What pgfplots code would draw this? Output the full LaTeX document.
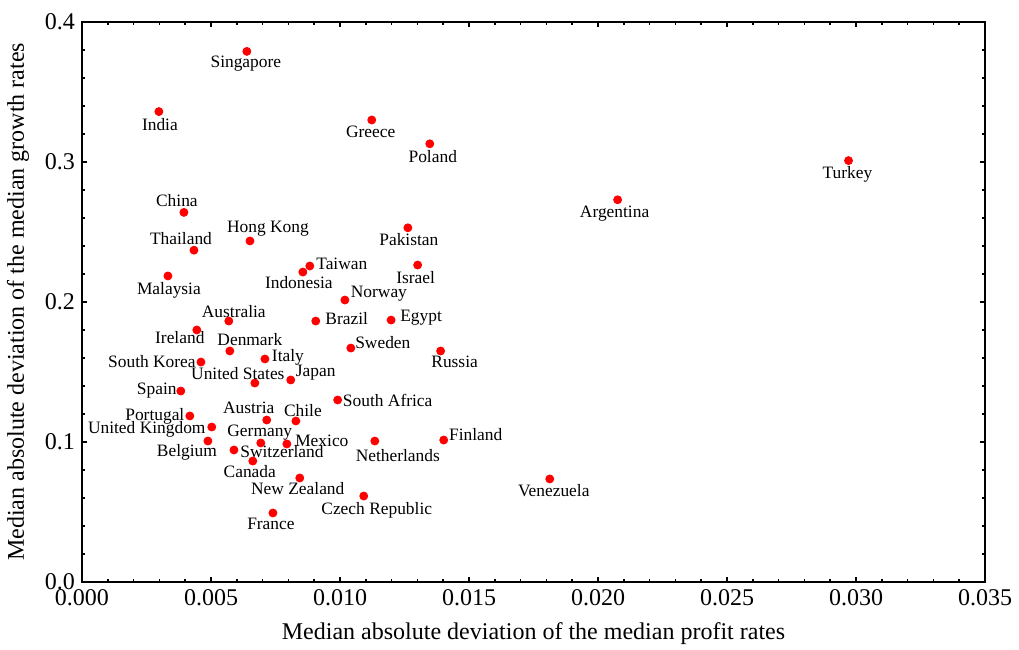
\documentclass[border=0pt]{standalone}
\usepackage{pgfplots}
\pgfplotsset{compat=1.18}
\usepackage{pgfplotstable}
\usepackage{fontspec}
\setmainfont{Liberation Serif}
\pgfplotstableread[col sep=comma]{
x,y,dx,dy,name
0.00639,0.379,-0.5,-6,Singapore
0.00298,0.336,0.5,-6.5,India
0.01123,0.330,-0.5,-6,Greece
0.01348,0.313,1.5,-6.5,Poland
0.02971,0.301,-0.5,-7,Turkey
0.02076,0.273,-1.5,-7,Argentina
0.00395,0.264,-3.5,6,China
0.00651,0.2436,9,6,Hong Kong
0.00434,0.237,-6.5,6,Thailand
0.01263,0.253,0.5,-6,Pakistan
0.00883,0.2257,16,1,Taiwan
0.00856,0.2214,-2,-5.5,Indonesia
0.01301,0.2264,-1,-6.5,Israel
0.00333,0.2186,0.5,-7,Malaysia
0.01019,0.2014,17,3,Norway
0.00569,0.1864,2.5,4.5,Australia
0.00906,0.1864,15.5,1,Brazil
0.01198,0.1871,15,1,Egypt
0.00445,0.1800,-8.5,-4,Ireland
0.01042,0.1671,16,3,Sweden
0.01390,0.1650,7,-5.5,Russia
0.00573,0.1650,10,5.5,Denmark
0.00709,0.1593,11.5,1,Italy
0.00461,0.1571,-24.5,0.5,South Korea
0.00809,0.1443,12.5,3.5,Japan
0.00670,0.1421,-8.5,5,United States
0.00383,0.1364,-12,0,Spain
0.00991,0.1300,25,0,South Africa
0.00418,0.1186,-17.5,0,Portugal
0.00716,0.1157,-9,6,Austria
0.00829,0.1150,3.5,5,Chile
0.00503,0.1107,-32.5,-1,United Kingdom
0.00488,0.1007,-10.5,-5.5,Belgium
0.00693,0.0993,-0.5,5,Germany
0.00794,0.0986,17.5,1.5,Mexico
0.01135,0.1007,11.5,-7.5,Netherlands
0.01402,0.1014,16,2.5,Finland
0.00589,0.0943,24,-1,Switzerland
0.00662,0.0864,-1.5,-5.5,Canada
0.00844,0.0743,-1,-5.5,New Zealand
0.01813,0.0736,2,-6,Venezuela
0.01092,0.0614,6.5,-7,Czech Republic
0.00740,0.0493,-1,-5.5,France
}\datatable
\begin{document}
\begin{tikzpicture}
\begin{axis}[
  name=ax,
  scale only axis,
  width=451.5pt, height=280pt,
  xmin=0, xmax=0.035, ymin=0, ymax=0.4,
  axis line style={line width=1.4pt},
  tick style={line width=0.8pt, black},
  major tick length=2.5pt, minor tick length=1.5pt,
  tick align=inside,
  xtick={0,0.005,...,0.035},
  ytick={0,0.1,...,0.4},
  minor x tick num=4,
  minor y tick num=4,
  scaled ticks=false,
  /pgf/number format/assume math mode=true,
  xticklabel style={/pgf/number format/.cd, fixed, fixed zerofill, precision=3},
  yticklabel style={/pgf/number format/.cd, fixed, fixed zerofill, precision=1},
  tick label style={font=\fontsize{12}{14}\selectfont},
  label style={font=\fontsize{12}{14}\selectfont},
  xlabel={Median absolute deviation of the median profit rates},
  ylabel={Median absolute deviation of the median growth rates},
  xlabel style={at={(axis description cs:0.5,-0.093)}, anchor=center},
  ylabel style={at={(axis description cs:-0.0708,0.5)}, anchor=center},
  clip=false,
]
\addplot[only marks, mark=*, mark size=2pt, color=red,
  point meta=explicit symbolic,
  visualization depends on={\thisrow{dx} \as \labdx},
  visualization depends on={\thisrow{dy} \as \labdy},
  nodes near coords,
  nodes near coords style={anchor=center, text=black, inner sep=0pt,
    font=\fontsize{8.7}{10}\selectfont, xshift=\labdx pt, yshift=\labdy pt},
] table[x=x, y=y, meta=name] {\datatable};
\end{axis}
\pgfresetboundingbox
\path ([xshift=-41pt,yshift=-34pt]ax.south west) rectangle ([xshift=17pt,yshift=11pt]ax.north east);
\end{tikzpicture}
\end{document}
